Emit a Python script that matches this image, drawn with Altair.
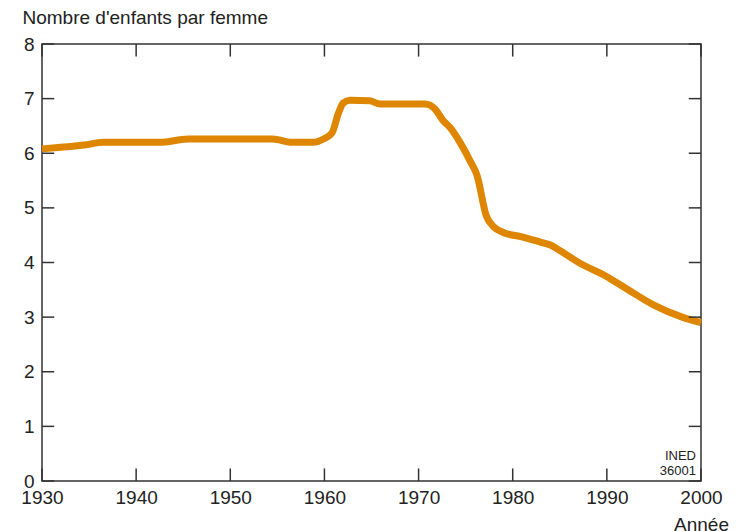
import altair as alt
import pandas as pd

# Series: total fertility rate (children per woman)
years = [1930, 1932, 1934.5, 1936.5, 1942.5, 1945.5, 1954.5, 1956.5, 1958.8, 1960,
         1960.8, 1961.5, 1962, 1962.7, 1964.8, 1965.9, 1970.7, 1971.8, 1972.6, 1973.3,
         1974.4, 1975.5, 1976.2, 1977.2, 1978, 1979, 1981, 1983, 1984, 1985,
         1987, 1990, 1992, 1995, 1998, 2000]
values = [6.08, 6.11, 6.15, 6.20, 6.20, 6.26, 6.26, 6.20, 6.20, 6.27,
          6.37, 6.74, 6.92, 6.97, 6.96, 6.90, 6.90, 6.80, 6.60, 6.48,
          6.20, 5.85, 5.60, 4.85, 4.65, 4.55, 4.47, 4.37, 4.32, 4.22,
          4.00, 3.74, 3.53, 3.22, 3.00, 2.90]

x_ticks = [1930, 1940, 1950, 1960, 1970, 1980, 1990, 2000]
y_ticks = [0, 1, 2, 3, 4, 5, 6, 7, 8]

note_lines = ["INED", "36001"]
note_y = [0.39, 0.11]
note_x = [2000, 2000]

df = pd.DataFrame({"annee": years, "enfants": values})
df_xt = pd.DataFrame({"t": x_ticks})
df_yt = pd.DataFrame({"t": y_ticks})
df_note = pd.DataFrame({"label": note_lines, "y": note_y, "x": note_x})

FONT = "Liberation Sans"
DARK = "#333333"
TXT = "#222222"
xs = alt.Scale(domain=[1930, 2000], nice=False, zero=False)
ys = alt.Scale(domain=[0, 8], nice=False)

x_axis = alt.Axis(
    values=x_ticks, format="d", ticks=False, domain=False, grid=False,
    labelPadding=7, labelFlush=False, labelOverlap=False,
    labelFontSize=19, labelColor=TXT, labelFont=FONT,
    title="Année", titleX=659, titleY=49, titleAlign="center",
    titleBaseline="alphabetic", titleFontWeight="normal",
    titleFontSize=19, titleFont=FONT, titleColor=TXT)
y_axis = alt.Axis(
    values=y_ticks, ticks=False, domain=False, grid=False,
    labelPadding=8, labelFontSize=19, labelColor=TXT, labelFont=FONT,
    title="Nombre d'enfants par femme", titleAngle=0, titleX=-20, titleY=-21,
    titleAlign="left", titleBaseline="alphabetic", titleFontWeight="normal",
    titleFontSize=19, titleFont=FONT, titleColor=TXT)

line = alt.Chart(df).mark_line(
    color="#DE8600", strokeWidth=7, strokeJoin="round", interpolate="monotone"
).encode(
    x=alt.X("annee:Q", scale=xs, axis=x_axis),
    y=alt.Y("enfants:Q", scale=ys, axis=y_axis),
)

rule = dict(color=DARK, strokeWidth=1.5)
bottom = alt.Chart(df_xt).mark_rule(**rule).encode(
    x=alt.X("t:Q", scale=xs, axis=x_axis),
    y=alt.YDatum(0, scale=ys, axis=y_axis), y2=alt.datum(0.23))
top = alt.Chart(df_xt).mark_rule(**rule).encode(
    x=alt.X("t:Q", scale=xs, axis=x_axis),
    y=alt.YDatum(8, scale=ys, axis=y_axis), y2=alt.datum(7.77))
left = alt.Chart(df_yt).mark_rule(**rule).encode(
    y=alt.Y("t:Q", scale=ys, axis=y_axis),
    x=alt.XDatum(1930, scale=xs, axis=x_axis), x2=alt.datum(1931.3))
right = alt.Chart(df_yt).mark_rule(**rule).encode(
    y=alt.Y("t:Q", scale=ys, axis=y_axis),
    x=alt.XDatum(2000, scale=xs, axis=x_axis), x2=alt.datum(1998.7))

note = alt.Chart(df_note).mark_text(
    align="right", baseline="alphabetic", dx=-5, fontSize=13, font=FONT, color=TXT
).encode(
    x=alt.X("x:Q", scale=xs, axis=x_axis),
    y=alt.Y("y:Q", scale=ys, axis=y_axis),
    text="label:N",
)

chart = alt.layer(line, bottom, top, left, right, note).properties(
    width=659, height=437,
    autosize=alt.AutoSizeParams(type="none"),
    padding={"left": 34, "top": 36, "right": 29, "bottom": 50},
    background="white",
).configure_view(stroke=DARK, strokeWidth=1.5)

chart.save("out.html", embed_options={"renderer": "svg", "actions": False})
